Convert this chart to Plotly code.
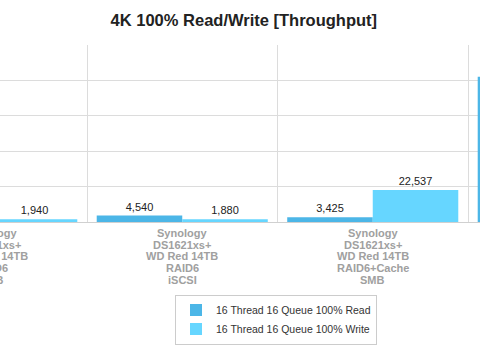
import plotly.graph_objects as go

# ---- data ----
label_lines = [
    ["Synology", "DS1621xs+", "WD Red 14TB", "RAID6", "SMB"],
    ["Synology", "DS1621xs+", "WD Red 14TB", "RAID6", "iSCSI"],
    ["Synology", "DS1621xs+", "WD Red 14TB", "RAID6+Cache", "SMB"],
    ["Synology", "DS1621xs+", "WD Red 14TB", "RAID6+Cache", "iSCSI"],
]
categories = [" / ".join(l) for l in label_lines]
read_vals = [4310, 4540, 3425, 102600]
write_vals = [1940, 1880, 22537, 27000]
series_names = ["16 Thread 16 Queue 100% Read", "16 Thread 16 Queue 100% Write"]
y_ticks = [0, 25000, 50000, 75000, 100000, 125000]

FONT = "Arial, Liberation Sans, sans-serif"
read_color = "#4CB6E7"
write_color = "#66D6FF"
grid = "#DCDCDC"

fig = go.Figure()
for name, vals, col in [(series_names[0], read_vals, read_color),
                        (series_names[1], write_vals, write_color)]:
    fig.add_trace(go.Bar(
        x=categories, y=vals, name=name,
        marker=dict(color=col, line=dict(width=0)),
        texttemplate="%{y:,}", textposition="outside",
        textfont=dict(family=FONT, size=11, color="#222"),
    ))

x_range = [0.0433, 2.563]

annotations = []
for i, lines in enumerate(label_lines):
    px = (i - x_range[0]) / (x_range[1] - x_range[0])
    for j, line in enumerate(lines):
        annotations.append(dict(
            xref="paper", yref="paper", x=px, y=0,
            xanchor="center", yanchor="middle",
            yshift=-(10.7 + 11.8 * j),
            text=line, showarrow=False,
            font=dict(family=FONT, size=11, color="#A0A0A0", weight="bold"),
        ))

fig.update_layout(
    width=480, height=351,
    margin=dict(l=0, r=0, t=45, b=129),
    paper_bgcolor="white", plot_bgcolor="white",
    barmode="group", bargap=0.102, bargroupgap=0,
    title=dict(text="4K 100% Read/Write [Throughput]",
               x=0.508, xanchor="center", xref="paper",
               y=1 - 20 / 351, yanchor="middle", yref="container",
               font=dict(family=FONT, size=16.5, color="#222", weight="bold")),
    xaxis=dict(type="category", range=x_range, tickson="boundaries",
               showgrid=True, gridcolor=grid, gridwidth=1,
               showticklabels=False, ticks="",
               showline=True, linecolor="#D0D0D0", linewidth=1),
    yaxis=dict(range=[0, 125000], tickvals=y_ticks, showgrid=True,
               gridcolor=grid, gridwidth=1, showticklabels=False,
               zeroline=False, ticks=""),
    legend=dict(orientation="v", xref="paper", yref="paper",
                x=175 / 480, xanchor="left", y=-0.41, yanchor="top",
                bordercolor="#CCCCCC", borderwidth=1, bgcolor="white",
                font=dict(family=FONT, size=10.5, color="#333")),
    annotations=annotations,
    showlegend=True,
)

fig.write_html("out.html")
